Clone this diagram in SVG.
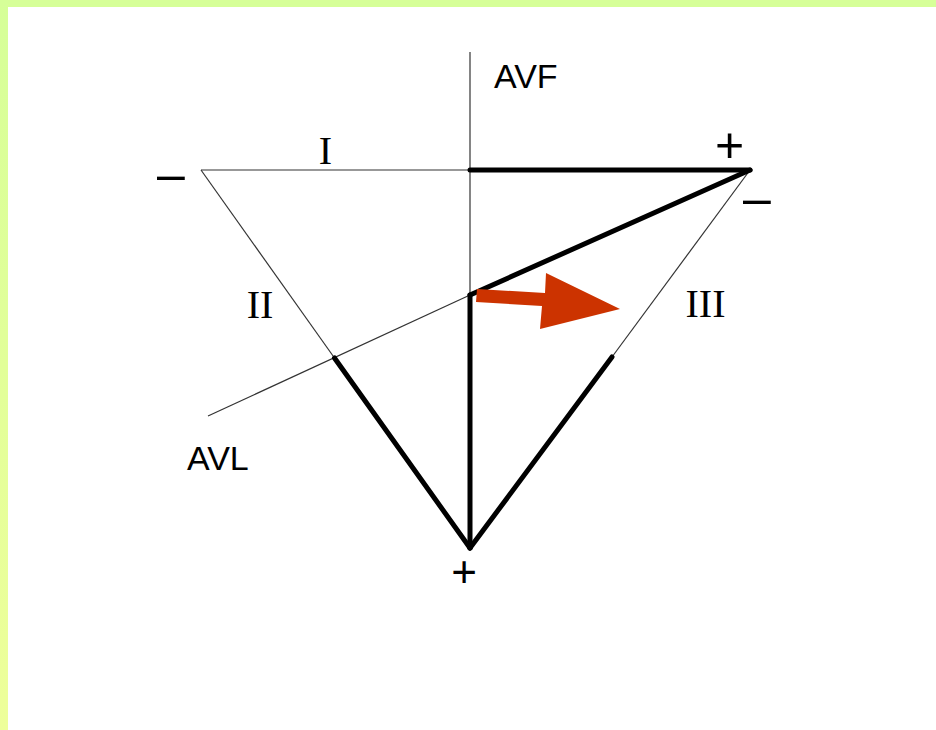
<svg xmlns="http://www.w3.org/2000/svg" width="936" height="730" viewBox="0 0 936 730">
<defs>
<linearGradient id="lg" x1="0" y1="0" x2="0" y2="1">
<stop offset="0" stop-color="#d6ff98"/>
<stop offset="1" stop-color="#eeff9a"/>
</linearGradient>
<style>
.thin{stroke:#333;stroke-width:1.2;fill:none}
.thick{stroke:#000;stroke-width:5;fill:none;stroke-linecap:round}
.sans{font-family:"Liberation Sans",Arial,sans-serif;fill:#000}
.serif{font-family:"Liberation Serif","Times New Roman",serif;fill:#000;font-size:40px;text-anchor:middle}
.sym{font-family:"Liberation Sans",Arial,sans-serif;fill:#000;text-anchor:middle}
</style>
</defs>
<rect width="936" height="730" fill="#fff"/>
<rect x="0" y="0" width="936" height="7" fill="#d6ff98"/>
<rect x="0" y="0" width="8" height="730" fill="url(#lg)"/>
<g id="connectors">
<line class="thin" x1="470" y1="52" x2="470" y2="295"/>
<line class="thin" x1="201" y1="170" x2="470" y2="170"/>
<line class="thin" x1="201" y1="170" x2="334.5" y2="358"/>
<line class="thin" x1="750" y1="170" x2="612" y2="357"/>
<line class="thin" x1="208" y1="416" x2="470" y2="295"/>
<line class="thick" x1="470" y1="170" x2="750" y2="170"/>
<line class="thick" x1="470" y1="295" x2="750" y2="170"/>
<line class="thick" x1="470" y1="295" x2="470" y2="548"/>
<line class="thick" x1="334.5" y1="358" x2="470" y2="548"/>
<line class="thick" x1="612" y1="357" x2="470" y2="548"/>
<polygon id="vector" points="477,289 545,293 546,273 620,309 540,329 542,306 476,302" fill="#cc3300"/>
</g>
<g id="label-avf"><text class="sans" x="494" y="88" font-size="34">AVF</text></g>
<g id="label-avl"><text class="sans" x="187" y="470" font-size="34">AVL</text></g>
<g id="label-i"><text class="serif" x="325.5" y="164">I</text></g>
<g id="label-ii"><text class="serif" x="260" y="318">II</text></g>
<g id="label-iii"><text class="serif" x="705.5" y="317">III</text></g>
<g id="sign-top-plus"><text class="sym" x="729.5" y="162" font-size="50">+</text></g>
<g id="sign-bottom-plus"><text class="sym" x="464" y="587" font-size="44">+</text></g>
<g id="sign-left-minus"><text class="sym" x="171" y="191" font-size="50">–</text></g>
<g id="sign-right-minus"><text class="sym" x="757" y="215" font-size="50">–</text></g>
</svg>
